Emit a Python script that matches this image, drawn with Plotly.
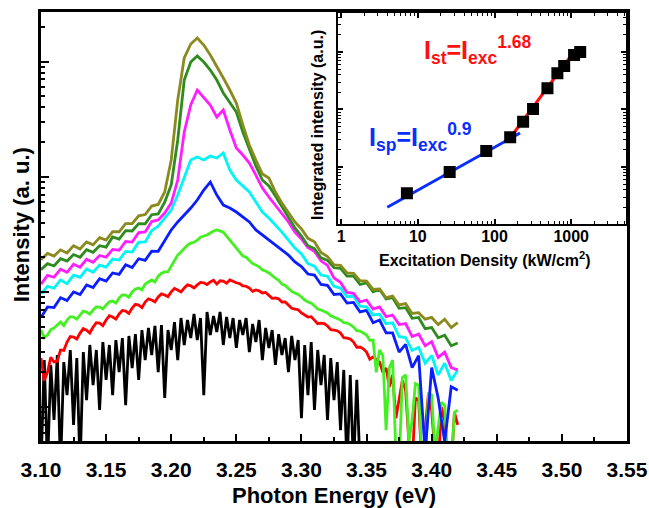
import plotly.graph_objects as go

# ---------------- data: photon energy grids (eV) ----------------
energy = [round(3.100 + 0.005 * i, 4) for i in range(65)]            # 3.100 ... 3.420
energy_fine = [round(3.100 + 0.0025 * i, 4) for i in range(129)]     # 3.100 ... 3.420
energy_black = [round(3.100 + 0.0025 * i, 4) for i in range(100)]    # 3.100 ... 3.3475

# PL spectra (arbitrary units, log scale), lowest to highest excitation
black = [3, 25.6, 3, 23.2, 7.71, 28.3, 3, 24.6, 12.7, 31.3,
         6.98, 26.6, 3, 30.0, 11.5, 34.6, 15.5, 31.3, 9.42, 36.7,
         17.2, 34.6, 12.7, 38.2, 20.1, 39.7, 10.4, 41.4, 21.8, 43.0,
         17.2, 46.6, 25.6, 48.6, 28.3, 50.6, 20.1, 51.6, 12.0, 46.6,
         31.3, 54.7, 25.6, 59.3, 34.6, 57.0, 39.7, 64.3, 38.2, 59.3,
         12.7, 66.9, 42.2, 61.8, 44.8, 66.9, 34.6, 60.5, 39.7, 59.3,
         32.6, 57.0, 42.2, 59.3, 30.0, 52.6, 36.7, 57.0, 25.6, 48.6,
         32.6, 46.6, 23.2, 43.0, 28.3, 39.7, 20.1, 41.4, 25.6, 38.2,
         8.0, 34.6, 12.7, 36.7, 9.42, 31.3, 15.5, 28.3, 7.71, 26.6,
         11.5, 24.6, 6.31, 21.0, 3, 19.0, 3, 17.2, 3, 3]
red = [26.6, 17, 20.1, 27, 24.6, 25, 31.3, 31, 36.7, 41, 40.6, 39, 43.9, 48, 46.6, 44,
       49.5, 54, 53.6, 51,
       57.0, 62, 60.5, 58, 64.3, 69, 68.2, 65, 72.4, 78, 76.9, 73, 81.7, 87, 85.0, 82,
       90.3, 96, 93.9, 91,
       100, 107, 104, 100, 108, 115, 113, 108, 115, 121, 120, 116, 122, 126, 117, 125,
       124, 119, 127, 123,
       120, 118, 113, 112, 108, 101, 104, 102, 97.9, 99, 93.9, 88, 88.5, 87, 81.7, 82,
       76.9, 72, 71.0, 70,
       65.6, 63, 60.5, 61, 57.0, 53, 53.6, 53, 50.6, 47, 46.6, 46, 43.9, 40, 39.7, 39,
       36.7, 33, 33.2, 32,
       30.0, 26, 27.2, 26, 24.6, 20, 21.8, 15, 19.0, 8, 11.5, 17, 14.0, 5, 3, 12,
       11.5, 3, 6.3, 13,
       9.4, 4, 3, 10, 7.7, 3, 3, 9, 7.0]
lime = [46.6, 40, 42.2, 47, 48.6, 52, 54.7, 51, 57.0, 61, 60.5, 58, 63.0, 68, 66.9, 64,
        69.6, 74, 73.9, 71,
        76.9, 82, 83.3, 80, 88.5, 94, 93.9, 90, 100, 106, 108, 104, 117, 123, 127, 122,
        137, 145, 149, 150,
        168, 190, 209, 222, 240, 255, 265, 270, 282, 298, 306, 312, 325, 338, 345, 340,
        331, 305, 282, 262,
        240, 225, 205, 200, 189, 176, 171, 165, 155, 152, 146, 138, 132, 126, 117, 114,
        108, 101, 98, 95,
        90.3, 85, 81.7, 80, 75.4, 71, 69.6, 68, 65.6, 62, 60.5, 59, 57.0, 54, 53.6, 52,
        49.5, 46, 45.7, 44,
        42.2, 38, 38.2, 20, 31.3, 28, 6.3, 22, 25.6, 4, 3, 18, 19.0, 5, 7.7, 16,
        15.5, 3, 3, 13,
        12.7, 4, 6.3, 11, 10.4, 3, 3, 9, 9.4]
blue = [60, 74, 73, 89, 84, 100, 95, 115, 109, 130, 124, 146, 142, 172, 163, 194,
        188, 226, 225, 282,
        345, 405, 465, 535, 628, 767, 901, 694, 568, 535, 494, 447, 405, 345, 312, 282,
        255, 231, 209, 182,
        166, 143, 140, 116, 114, 95, 96, 80, 81, 67, 69, 54, 57, 44, 44, 30,
        35, 22, 28, 4, 22, 12, 5, 15, 14]
cyan = [96, 112, 108, 127, 118, 140, 134, 158, 148, 171, 164, 193, 189, 225, 222, 270,
        272, 340, 372, 438,
        514, 694, 975, 1398, 1484, 1398, 1514, 1455, 1608, 1144, 937, 831, 737, 603, 494,
        438, 381, 331, 282, 240,
        214, 176, 167, 140, 137, 112, 108, 91, 92, 75, 74, 63, 64, 53, 54, 41,
        40, 31, 33, 24, 28, 19, 24, 17, 21]
magenta = [117, 139, 134, 157, 148, 174, 164, 192, 181, 207, 200, 234, 230, 274, 271, 328,
           332, 408, 422, 484,
           591, 937, 2447, 4199, 5668, 4930, 4199, 3300, 3799, 2547, 1777, 1545, 1317, 1035,
           798, 667, 568, 484, 405, 331,
           288, 242, 225, 186, 170, 132, 121, 99, 97, 82, 85, 71, 74, 61, 63, 52,
           53, 41, 43, 34, 37, 27, 30, 22, 21]
darkgreen = [156, 176, 168, 194, 185, 211, 200, 233, 221, 252, 245, 300, 288, 340, 338, 392,
             390, 468, 476, 603,
             848, 2085, 6923, 9920, 11190, 9920, 8456, 6923, 5340, 4460, 3650, 2447, 1707,
             1240, 937, 831, 680, 546, 438, 359,
             306, 252, 238, 198, 188, 162, 160, 137, 137, 116, 120, 100, 105, 87, 89, 72,
             73, 59, 60, 48, 49, 40, 42, 34, 36]
olive = [190, 216, 205, 232, 218, 252, 236, 272, 256, 296, 282, 334, 333, 392, 392, 458,
         470, 556, 575, 737,
         1398, 4640, 10750, 14220, 16030, 13941, 11414, 9160, 7200, 5668, 4370, 2815, 1887,
         1398, 1056, 975, 737, 591, 494, 405,
         352, 292, 272, 220, 203, 172, 170, 146, 145, 125, 124, 105, 106, 89, 92, 77,
         79, 65, 66, 58, 60, 52, 58, 49, 54]

spectra = [
    ("black", energy_black, black),
    ("#FF0000", energy_fine, red),
    ("#44F022", energy_fine, lime),
    ("#0A1EFF", energy, blue),
    ("#00F5F5", energy, cyan),
    ("#FF1EFF", energy, magenta),
    ("#2E8B1E", energy, darkgreen),
    ("#8A8A1E", energy, olive),
]

# ---------------- inset data ----------------
exc_density = [7.2, 26, 78, 160, 236, 318, 490, 660, 810, 1090, 1310]
integrated = [3.5, 8.2, 19, 33, 61, 102, 235, 427, 570, 890, 1000]
fit_sp_x = [4, 215]
fit_sp_y = [2.0, 39]
fit_st_x = [146, 1150]
fit_st_y = [27.2, 1120]

main_xticks = [3.10, 3.15, 3.20, 3.25, 3.30, 3.35, 3.40, 3.45, 3.50, 3.55]
inset_xticks = [1, 10, 100, 1000]
inset_xticklabels = ["1", "10", "100", "1000"]
log_minor = [m * 10 ** d for d in range(-1, 5) for m in range(2, 10)]

BOLD = "Liberation Sans"

fig = go.Figure()
for color, xs, ys in spectra:
    fig.add_trace(go.Scatter(x=xs, y=ys, mode="lines", line=dict(color=color, width=2.8),
                             xaxis="x", yaxis="y", showlegend=False))

fig.add_trace(go.Scatter(x=fit_sp_x, y=fit_sp_y, mode="lines",
                         line=dict(color="#0A2EFF", width=3), xaxis="x2", yaxis="y2",
                         showlegend=False))
fig.add_trace(go.Scatter(x=fit_st_x, y=fit_st_y, mode="lines",
                         line=dict(color="#FF1010", width=3), xaxis="x2", yaxis="y2",
                         showlegend=False))
fig.add_trace(go.Scatter(x=exc_density, y=integrated, mode="markers",
                         marker=dict(symbol="square", size=12, color="black"),
                         xaxis="x2", yaxis="y2", showlegend=False))

fig.update_layout(
    width=649, height=508,
    margin=dict(l=41, r=22, t=12, b=67),
    paper_bgcolor="white", plot_bgcolor="white",
    xaxis=dict(
        domain=[0, 1], range=[3.10, 3.55], tickvals=main_xticks,
        ticktext=[f"{v:.2f}" for v in main_xticks], automargin=False,
        ticks="inside", ticklen=7, tickwidth=2, tickcolor="black",
        minor=dict(ticks="inside", ticklen=4, tickwidth=2, tickcolor="black", dtick=0.025),
        showline=True, linewidth=2.5, linecolor="black", mirror=True,
        showgrid=False, zeroline=False, ticklabelstandoff=8,
        tickfont=dict(family=BOLD, size=21, color="black", weight="bold"),
    ),
    yaxis=dict(
        domain=[0, 1], type="log", range=[0.705, 4.431], dtick=1, automargin=False,
        ticks="inside", ticklen=8, tickwidth=2, tickcolor="black",
        minor=dict(ticks="inside", ticklen=4, tickwidth=1.5, tickcolor="black",
                   tickvals=log_minor),
        showticklabels=False,
        showline=True, linewidth=2.5, linecolor="black", mirror=True,
        showgrid=False, zeroline=False,
    ),
    xaxis2=dict(
        domain=[0.507, 0.999], anchor="y2", type="log", range=[-0.04, 3.72],
        tickvals=inset_xticks, ticktext=inset_xticklabels, automargin=False,
        ticks="inside", ticklen=5, tickwidth=1.5, tickcolor="black",
        minor=dict(ticks="inside", ticklen=3, tickwidth=1, tickcolor="black",
                   tickvals=log_minor),
        showline=True, linewidth=2, linecolor="black", mirror="ticks",
        showgrid=False, zeroline=False, ticklabelstandoff=-3,
        tickfont=dict(family=BOLD, size=16, color="black", weight="bold"),
    ),
    yaxis2=dict(
        domain=[0.506, 0.998], anchor="x2", type="log", range=[0.01, 3.68], dtick=1,
        automargin=False,
        ticks="inside", ticklen=5, tickwidth=1.5, tickcolor="black",
        minor=dict(ticks="inside", ticklen=3, tickwidth=1, tickcolor="black",
                   tickvals=log_minor),
        showticklabels=False,
        showline=True, linewidth=2, linecolor="black", mirror="ticks",
        showgrid=False, zeroline=False,
    ),
    annotations=[
        dict(text="Photon Energy (eV)", xref="paper", yref="paper", x=0.5, y=-0.126,
             xanchor="center", yanchor="middle", showarrow=False,
             font=dict(family=BOLD, size=22, color="black", weight="bold")),
        dict(text="Intensity (a. u.)", xref="paper", yref="paper", x=-0.034, y=0.503,
             xanchor="center", yanchor="middle", showarrow=False, textangle=-90,
             font=dict(family=BOLD, size=22, color="black", weight="bold")),
        dict(text="Excitation Density (kW/cm<sup>2</sup>)", xref="paper", yref="paper",
             x=0.758, y=0.425, xanchor="center", yanchor="middle", showarrow=False,
             font=dict(family=BOLD, size=16, color="black", weight="bold")),
        dict(text="Integrated intensity (a.u.)", xref="paper", yref="paper",
             x=0.473, y=0.737, xanchor="center", yanchor="middle", showarrow=False,
             textangle=-90, font=dict(family=BOLD, size=16, color="black", weight="bold")),
        dict(text="I<sub>sp</sub>=I<sub>exc</sub><sup>0.9</sup>", xref="paper", yref="paper",
             x=0.648, y=0.709, xanchor="center", yanchor="middle", showarrow=False,
             font=dict(family=BOLD, size=25, color="#0A2EFF", weight="bold")),
        dict(text="I<sub>st</sub>=I<sub>exc</sub><sup>1.68</sup>", xref="paper", yref="paper",
             x=0.746, y=0.911, xanchor="center", yanchor="middle", showarrow=False,
             font=dict(family=BOLD, size=25, color="#FF1010", weight="bold")),
    ],
)

fig.write_html("out.html")
